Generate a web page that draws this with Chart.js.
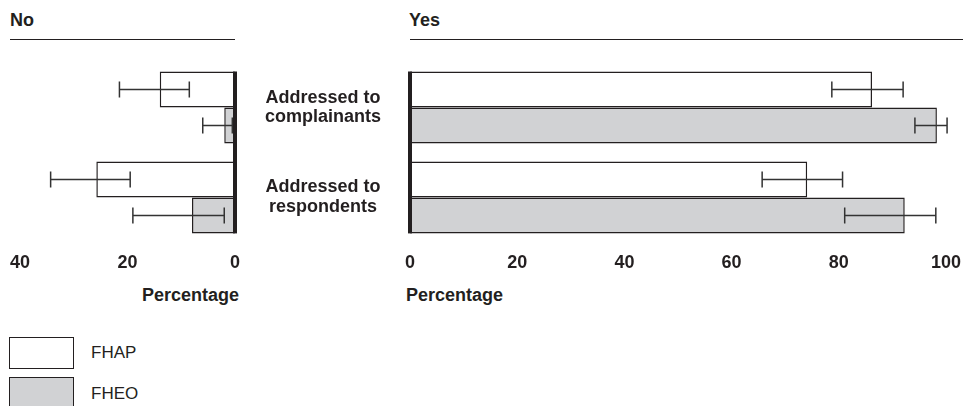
<!DOCTYPE html>
<html><head><meta charset="utf-8">
<script src="https://cdn.jsdelivr.net/npm/chart.js@4/dist/chart.umd.min.js"></script>
<style>
html,body{margin:0;padding:0;background:#fff;}
#wrap{position:relative;width:966px;height:406px;overflow:hidden;font-family:"Liberation Sans",Arial,sans-serif;color:#231f20;}
canvas{position:absolute;left:0;top:0;}
.t{position:absolute;font-weight:bold;font-size:18px;line-height:20px;white-space:nowrap;}
.rule{position:absolute;height:0;border-top:1.4px solid #231f20;}
.box{position:absolute;border:1.3px solid #231f20;box-sizing:border-box;width:65px;height:32px;}
.lt{position:absolute;font-size:17px;line-height:20px;white-space:nowrap;}
</style></head><body>
<div id="wrap">
  <div class="t" style="left:10px;top:10px;">No</div>
  <div class="t" style="left:409px;top:10px;">Yes</div>
  <div class="rule" style="left:10px;top:39px;width:225px;"></div>
  <div class="rule" style="left:410px;top:39px;width:553px;"></div>
  <div class="t" style="right:727px;top:285px;">Percentage</div>
  <div class="t" style="left:406px;top:285px;">Percentage</div>
  <div id="legend"></div>
  <canvas id="yes" width="966" height="406"></canvas>
  <canvas id="no" width="966" height="406"></canvas>
</div>
<script>
// ---- data ----
const categories = [['Addressed to','complainants'],['Addressed to','respondents']];
const seriesNames = ['FHAP','FHEO'];
const noTicks = [0,20,40];
const yesTicks = [0,20,40,60,80,100];

const noFHAP     = [14.0, 25.8];
const noFHAPLow  = [8.5, 19.5];
const noFHAPHigh = [21.5, 34.3];
const noFHEO     = [2.0, 8.0];
const noFHEOLow  = [0.5, 2.0];
const noFHEOHigh = [6.0, 19.0];

const yesFHAP     = [86.2, 74.1];
const yesFHAPLow  = [78.7, 65.7];
const yesFHAPHigh = [92.0, 80.7];
const yesFHEO     = [98.3, 92.3];
const yesFHEOLow  = [94.2, 81.1];
const yesFHEOHigh = [100.2, 98.1];

// ---- styles ----
const INK = '#231f20';
const fills = ['#ffffff', '#d1d2d4'];

// legend (HTML)
const lg = document.getElementById('legend');
seriesNames.forEach((n,i)=>{
  const b = document.createElement('div');
  b.className='box'; b.style.left='9px'; b.style.top=(337+40*i)+'px'; b.style.background=fills[i];
  lg.appendChild(b);
  const t = document.createElement('div');
  t.className='lt'; t.style.left='91px'; t.style.top=(343+41*i)+'px'; t.textContent=n;
  lg.appendChild(t);
});

const decor = {
  id:'decor',
  afterDatasetsDraw(chart){
    const ctx = chart.ctx, xs = chart.scales.x;
    ctx.save();
    chart.data.datasets.forEach((ds,i)=>{
      const meta = chart.getDatasetMeta(i);
      meta.data.forEach((el,j)=>{
        const x1 = xs.getPixelForValue(ds.errLow[j]);
        const x2 = xs.getPixelForValue(ds.errHigh[j]);
        const y = el.y;
        ctx.strokeStyle = '#333333'; ctx.lineWidth = 1.5;
        ctx.beginPath();
        ctx.moveTo(x1,y); ctx.lineTo(x2,y);
        ctx.moveTo(x1,y-8); ctx.lineTo(x1,y+8);
        ctx.moveTo(x2,y-8); ctx.lineTo(x2,y+8);
        ctx.stroke();
      });
    });
    const first = chart.getDatasetMeta(0).data[0];
    const lm = chart.getDatasetMeta(chart.data.datasets.length-1);
    const last = lm.data[lm.data.length-1];
    const x0 = xs.getPixelForValue(0);
    const top = first.y - first.height/2, bot = last.y + last.height/2;
    ctx.fillStyle = INK;
    ctx.fillRect(x0-2, top, 4, bot-top);
    ctx.restore();
  }
};

function makeDatasets(vals){
  return vals.map((v,i)=>({
    label: seriesNames[i],
    data: v[0], errLow: v[1], errHigh: v[2],
    backgroundColor: fills[i], borderColor: INK, borderWidth: 1.5,
    categoryPercentage: 0.8, barPercentage: 1.0
  }));
}

function makeChart(id, datasets, ticks, reverse, showY, pad){
  const yScale = {
    display: showY,
    grid:{display:false, drawTicks:false}, border:{display:false},
    ticks:{ color:INK, crossAlign:'center', padding:29,
      font:{family:'"Liberation Sans", Arial, sans-serif', size:18, weight:'bold', lineHeight:1.1} }
  };
  if (showY) yScale.afterFit = s => { s.width = 160; };
  return new Chart(document.getElementById(id), {
    type:'bar',
    data:{ labels: categories, datasets },
    plugins:[decor],
    options:{
      indexAxis:'y', responsive:false, animation:false, devicePixelRatio:1,
      layout:{ padding: pad },
      plugins:{ legend:{display:false}, tooltip:{enabled:false} },
      scales:{
        x:{
          min: ticks[0], max: ticks[ticks.length-1], reverse,
          afterBuildTicks: s => { s.ticks = ticks.map(v=>({value:v})); },
          afterFit: s => { s.paddingLeft = 0; s.paddingRight = 0; },
          grid:{display:false, drawTicks:false}, border:{display:false},
          ticks:{ color:INK, font:{family:'"Liberation Sans", Arial, sans-serif', size:18, weight:'bold'}, padding:10, maxRotation:0, autoSkip:false }
        },
        y: yScale
      }
    }
  });
}

makeChart('no', makeDatasets([[noFHAP,noFHAPLow,noFHAPHigh],[noFHEO,noFHEOLow,noFHEOHigh]]), noTicks, true, false,
  {left:20, right:731, top:62.5, bottom:122});
makeChart('yes', makeDatasets([[yesFHAP,yesFHAPLow,yesFHAPHigh],[yesFHEO,yesFHEOLow,yesFHEOHigh]]), yesTicks, false, true,
  {left:250, right:20, top:62.5, bottom:122});
</script>
</body></html>
